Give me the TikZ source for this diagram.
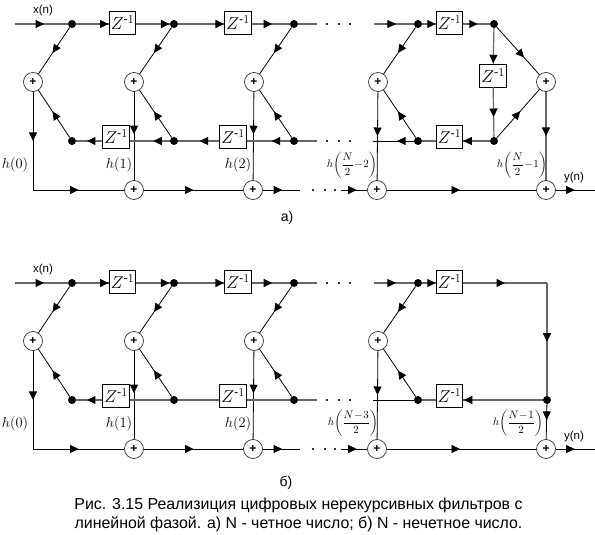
\documentclass[tikz,border=0pt]{standalone}
\usepackage{amsmath}
\usepackage[no-math]{fontspec}
\setmainfont{Liberation Sans}
\usetikzlibrary{arrows.meta,decorations.markings}
\tikzset{
  delaybox/.style={draw=black,fill=white,line width=0.7pt,minimum width=26.5pt,minimum height=23pt,inner sep=0pt,font=\fontsize{18}{18}\selectfont},
  adder/.style={draw=black!80,fill=white,circle,line width=0.7pt,minimum size=19pt,inner sep=0pt,font=\fontsize{12}{12}\selectfont\bfseries},
  junct/.style={fill=black,circle,minimum size=8pt,inner sep=0pt},
  elldot/.style={fill=black!80,minimum size=2.5pt,inner sep=0pt},
  glabel/.style={font=\fontsize{11.5}{11.5}\selectfont,inner sep=0pt},
  hlabel/.style={font=\fontsize{14.5}{14.5}\selectfont,inner sep=0pt},
  flabel/.style={font=\fontsize{11}{11}\selectfont,inner sep=0pt},
  tagl/.style={font=\fontsize{14}{14}\selectfont,inner sep=0pt},
  thickl/.style={line width=1.2pt,draw=black!60},
  thinl/.style={line width=0.8pt,draw=black},
  arr/.style={postaction={decorate},decoration={markings,mark=at position #1 with {\arrow[black]{Triangle[length=8.5pt,width=8pt]}}}}
}
\begin{document}
\begin{tikzpicture}[x=1pt,y=-1pt]
\useasboundingbox (0,0) rectangle (595,535);
% parts that both filters share
\foreach \p/\dy in {a/0,b/259} {
\begin{scope}[shift={(0,\dy)}]
\coordinate (\p in) at (15,24);
\coordinate (\p c1) at (317,24);
\coordinate (\p c2) at (374,24);
\coordinate (\p c3) at (317,141);
\coordinate (\p c4) at (373,141);
\coordinate (\p c5) at (300,190);
\coordinate (\p c6) at (341,190);
\coordinate (\p k) at (33,190);
\coordinate (\p out) at (595,190);
\foreach \n/\x in {1/72,2/174,3/294,4/418} {
  \node[junct] (\p t\n) at (\x,24) {};
  \node[junct] (\p m\n) at (\x,141) {};
}
\foreach \n/\x in {1/33,2/134,3/254,4/378} {
  \node[adder] (\p s\n) at (\x,82) {+};
}
\foreach \n/\x in {2/134,3/253,4/377,5/546} {
  \node[adder] (\p r\n) at (\x,190) {+};
}
\node[delaybox] (\p zt1) at (122.5,22.5) {$Z^{\text{-}1}$};
\node[delaybox] (\p zt2) at (238,22.5) {$Z^{\text{-}1}$};
\node[delaybox] (\p zt3) at (449.5,22.5) {$Z^{\text{-}1}$};
\node[delaybox] (\p zm1) at (116,136.5) {$Z^{\text{-}1}$};
\node[delaybox] (\p zm2) at (233,136.5) {$Z^{\text{-}1}$};
\node[delaybox] (\p zm3) at (449.5,136.5) {$Z^{\text{-}1}$};
\foreach \n/\x in {1/327,2/339,3/350} {\node[elldot] (\p et\n) at (\x,24) {};}
\foreach \n/\x in {1/327,2/339,3/350} {\node[elldot] (\p em\n) at (\x,141) {};}
\foreach \n/\x in {1/313,2/325,3/335} {\node[elldot] (\p eb\n) at (\x,190) {};}
\node[glabel] (\p xl) at (43,10.5) {x(n)};
\node[glabel] (\p yl) at (574,178) {y(n)};
\node[hlabel] (\p h0) at (15,165) {$h(0)$};
\node[hlabel] (\p h1) at (119,165) {$h(1)$};
\node[hlabel] (\p h2) at (238,165) {$h(2)$};
% top line
\draw[thickl,arr=0.55] (\p in) -- (\p t1);
\draw[thickl,arr=0.99] (\p t1) -- (\p zt1.west |- \p t1);
\draw[thickl,arr=0.99] (\p zt1.east |- \p t1) -- (\p t2);
\draw[thickl,arr=0.99] (\p t2) -- (\p zt2.west |- \p t2);
\draw[thickl,arr=0.54] (\p zt2.east |- \p t2) -- (\p t3);
\draw[thickl] (\p t3) -- (\p c1);
\draw[thickl,arr=0.55] (\p c2) -- (\p t4);
\draw[thickl,arr=0.99] (\p t4) -- (\p zt3.west |- \p t4);
% branches
\foreach \n in {1,2,3,4} {
  \draw[thinl,arr=0.55] (\p t\n) -- (\p s\n);
  \draw[thinl,arr=0.55] (\p m\n) -- (\p s\n);
}
\draw[thinl,arr=0.5] (\p s1) -- (\p k);
\draw[thinl,arr=0.5] (\p k) -- (\p r2);
\draw[thinl,arr=0.48] (\p s2) -- (\p r2);
\draw[thinl,arr=0.48] (\p s3) -- (\p r3);
\draw[thinl,arr=0.5] (\p s4) -- (\p r4);
\draw[thinl,arr=0.5] (\p r2) -- (\p r3);
\draw[thinl,arr=0.52] (\p r3) -- (\p c5);
\draw[thinl,arr=0.6] (\p c6) -- (\p r4);
\draw[thinl,arr=0.49] (\p r4) -- (\p r5);
\draw[thinl,arr=0.48] (\p r5) -- (\p out);
% delay line back
\draw[thickl,arr=0.59] (\p zm1.west |- \p m1) -- (\p m1);
\draw[thickl] (\p m4) -- (\p zm3.west |- \p m4);
\end{scope}
}
% a) last section
\node[junct] (ad5) at (494,24) {};
\node[junct] (ad6) at (494,141) {};
\node[adder] (as5) at (546,82) {+};
\node[delaybox] (azv) at (493,75.5) {$Z^{\text{-}1}$};
\node[flabel] (ahn2) at (352,165) {$h\!\left(\dfrac{N}{2}\!-\!2\right)$};
\node[flabel] (ahn1) at (522,165) {$h\!\left(\dfrac{N}{2}\!-\!1\right)$};
\node[tagl] (atag) at (287,218) {а)};
\draw[thickl,arr=0.55] (azt3.east |- ad5) -- (ad5);
\draw[thickl,arr=0.99] (ad5) -- (azv);
\draw[thickl,arr=0.6] (azv) -- (ad6);
\draw[thinl,arr=0.64] (ad5) -- (as5);
\draw[thinl,arr=0.55] (ad6) -- (as5);
\draw[thickl,arr=0.5] (as5) -- (ar5);
\draw[thickl,arr=0.99] (ad6) -- (azm3.east |- ad6);
\draw[thickl,arr=0.42] (am3) -- (azm2.east |- am3);
\draw[thickl,arr=0.48] (azm2.west |- am3) -- (am2);
\draw[thickl,arr=0.41] (am2) -- (azm1.east |- am2);
\draw[thickl] (am3) -- (ac3);
\draw[thinl,arr=0.41] (am4) -- (ac4);
% b) last section
\coordinate (bk) at (547,283);
\node[junct] (bd6) at (547,400) {};
\node[flabel] (bhn3) at (353,423) {$h\!\left(\dfrac{N\!-\!3}{2}\right)$};
\node[flabel] (bhn1) at (518,423) {$h\!\left(\dfrac{N\!-\!1}{2}\right)$};
\node[tagl] (btag) at (286,483) {б)};
\node[align=center,font=\fontsize{15.9}{19}\selectfont,inner sep=0pt] (cap) at (298.5,514.5) {Рис. 3.15 Реализиция цифровых нерекурсивных фильтров с\\линейной фазой. а) N - четное число; б) N - нечетное число.};
\draw[thickl,arr=0.5] (bzt3.east |- bk) -- (bk);
\draw[thickl,arr=0.52] (bk) -- (bd6);
\draw[thickl,arr=0.99] (bd6) -- (bzm3.east |- bd6);
\draw[thinl,arr=0.45] (bd6) -- (br5);
\draw[thickl] (bm3) -- (bzm2.east |- bm3);
\draw[thickl] (bzm2.west |- bm3) -- (bm2);
\draw[thickl] (bm2) -- (bzm1.east |- bm2);
\draw[thickl] (bm3) -- (bc3);
\draw[thinl] (bm4) -- (bc4);
\end{tikzpicture}
\end{document}
